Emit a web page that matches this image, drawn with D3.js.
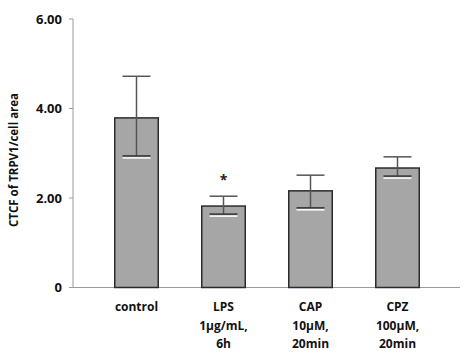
<!DOCTYPE html>
<html><head><meta charset="utf-8">
<script src="https://cdn.jsdelivr.net/npm/d3@7"></script>
<style>body{margin:0;background:#fff}</style>
</head><body>
<script>
const categories = ["control", "LPS", "CAP", "CPZ"];
const labelLines = [["control"], ["LPS", "1µg/mL,", "6h"], ["CAP", "10µM,", "20min"], ["CPZ", "100µM,", "20min"]];
const means = [3.79, 1.82, 2.16, 2.67];
const errUpper = [4.72, 2.04, 2.51, 2.92];
const errLower = [2.94, 1.64, 1.78, 2.49];
const significant = [false, true, false, false];
const yTicks = [0, 2, 4, 6];
const yTickLabels = ["0", "2.00", "4.00", "6.00"];
const yTitle = "CTCF of TRPV1/cell area";

const W = 467, H = 357;
const font = "'Open Sans', sans-serif";
const svg = d3.select("body").append("svg").attr("width", W).attr("height", H);

const y = d3.scaleLinear().domain([0, 6]).range([287.5, 19]);
const x = d3.scaleBand().domain(categories).range([93, 441]).paddingInner(0.5).paddingOuter(0.25);
const axisX = 73;

// y axis
svg.append("line").attr("x1", axisX).attr("x2", axisX).attr("y1", y(6)).attr("y2", y(0))
  .attr("stroke", "#9a9a9a").attr("stroke-width", 1);
svg.selectAll(".ytick").data(yTicks).enter().append("line")
  .attr("x1", axisX - 4).attr("x2", axisX).attr("y1", d => y(d)).attr("y2", d => y(d))
  .attr("stroke", "#9a9a9a").attr("stroke-width", 1);
svg.selectAll(".ylab").data(yTicks).enter().append("text")
  .attr("x", 62).attr("y", d => y(d)).attr("dy", "0.36em")
  .attr("text-anchor", "end").attr("font-family", font).attr("font-weight", "bold")
  .attr("font-size", 13).attr("fill", "#111").text((d, i) => yTickLabels[i]);

// y title
svg.append("text").attr("transform", `translate(18,160) rotate(-90)`)
  .attr("text-anchor", "middle").attr("font-family", font).attr("font-weight", "bold")
  .attr("font-size", 11.5).attr("fill", "#111").text(yTitle);

// x axis
svg.append("line").attr("x1", axisX).attr("x2", 460).attr("y1", y(0)).attr("y2", y(0))
  .attr("stroke", "#9a9a9a").attr("stroke-width", 1.2);

// bars
svg.selectAll(".bar").data(categories).enter().append("rect")
  .attr("x", d => x(d)).attr("width", x.bandwidth())
  .attr("y", (d, i) => y(means[i])).attr("height", (d, i) => y(0) - y(means[i]))
  .attr("fill", "#a6a6a6").attr("stroke", "#2b2b2b").attr("stroke-width", 1.5);

// error bars
const capW = 28;
categories.forEach((c, i) => {
  const cx = x(c) + x.bandwidth() / 2;
  const g = svg.append("g");
  g.append("line").attr("x1", cx - capW / 2).attr("x2", cx + capW / 2)
    .attr("y1", y(errLower[i]) + 2).attr("y2", y(errLower[i]) + 2)
    .attr("stroke", "#ffffff").attr("stroke-width", 1.5);
  g.append("line").attr("x1", cx).attr("x2", cx).attr("y1", y(errUpper[i])).attr("y2", y(errLower[i]))
    .attr("stroke", "#555").attr("stroke-width", 1.5);
  g.append("line").attr("x1", cx - capW / 2).attr("x2", cx + capW / 2)
    .attr("y1", y(errUpper[i])).attr("y2", y(errUpper[i]))
    .attr("stroke", "#555").attr("stroke-width", 1.5);
  g.append("line").attr("x1", cx - capW / 2).attr("x2", cx + capW / 2)
    .attr("y1", y(errLower[i])).attr("y2", y(errLower[i]))
    .attr("stroke", "#333").attr("stroke-width", 1.5);
  if (significant[i]) {
    g.append("text").attr("x", cx).attr("y", y(errUpper[i]) - 11)
      .attr("text-anchor", "middle").attr("font-family", font).attr("font-weight", "bold")
      .attr("font-size", 14).attr("fill", "#222").text("*");
  }
  // labels
  labelLines[i].forEach((t, j) => {
    svg.append("text").attr("x", cx).attr("y", 311 + j * 18.5)
      .attr("text-anchor", "middle").attr("font-family", font).attr("font-weight", "bold")
      .attr("font-size", 12).attr("fill", "#111").text(t);
  });
});
</script>
</body></html>
